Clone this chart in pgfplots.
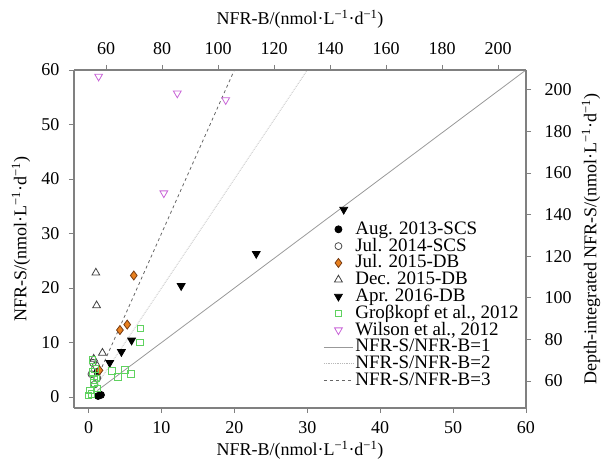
\documentclass[border=0pt]{standalone}
\usepackage{fontspec}
\setmainfont{Liberation Serif}
\usepackage{pgfplots}
\pgfplotsset{compat=1.18}
\definecolor{frame}{RGB}{128,128,128}
\definecolor{orng}{RGB}{232,128,30}
\definecolor{brwn}{RGB}{120,60,20}
\definecolor{grn}{RGB}{95,210,95}
\definecolor{mag}{RGB}{200,100,215}
\newcommand{\unitlab}{(nmol·L\textsuperscript{−1}·d\textsuperscript{−1})}
\pgfplotsset{base/.style={
  scale only axis, width=452pt, height=338pt,
  tick align=outside, major tick length=5pt,
  every tick/.style={frame, line width=0.8pt},
  axis line style={frame, line width=1.2pt},
  tick label style={font=\rmfamily\fontsize{18}{18}\selectfont},
  xticklabel={\textrm{\pgfmathprintnumber[assume math mode=true]{\tick}}},
  yticklabel={\textrm{\pgfmathprintnumber[assume math mode=true]{\tick}}},
  label style={font=\rmfamily\fontsize{18}{18}\selectfont},
  every axis plot/.append style={line width=0.8pt}
}}

\begin{document}
\begin{tikzpicture}
\begin{axis}[base, name=ax,
  xmin=-2, xmax=60, ymin=-2, ymax=60,
  axis x line*=bottom, axis y line*=left,
  xtick={0,10,...,60}, ytick={0,10,...,60},
  xticklabel shift=5pt, yticklabel shift=6pt,
  xlabel={NFR-B/\unitlab}, ylabel={NFR-S/\unitlab},
  every axis x label/.append style={at={(rel axis cs:0.5,0)}, anchor=center, yshift=-42pt},
  every axis y label/.append style={at={(rel axis cs:0,0.5)}, anchor=center, yshift=53pt},
  legend style={draw=none, fill=none, at={(0.545,0.56)}, anchor=north west,
    font=\rmfamily\fontsize{19}{19}\selectfont, row sep=0pt,
    cells={anchor=west, text height=11.3pt, text depth=3.5pt, inner ysep=0.3pt}},
  legend image code/.code={\draw[mark repeat=2,mark phase=2]
    plot coordinates {(0pt,0pt)(14.5pt,0pt)(29pt,0pt)};}]
  % ratio lines
  \addplot[gray!80, forget plot] coordinates {(1.2,1.2)(60,60)};
  \addplot[gray!55, densely dotted, forget plot] coordinates {(1,2)(30,60)};
  \addplot[black!60, dashed, forget plot] coordinates {(1.5,4.5)(20,60)};
  % Aug. 2013-SCS
  \addplot[only marks, mark=*, mark size=3.5pt, black] coordinates {
    (1.3,0.2)(1.7,0.4)(1.2,4.6)};
  % Jul. 2014-SCS
  \addplot[only marks, mark=o, mark size=3.5pt, black!70] coordinates {
    (0.6,6.3)(1.0,5.8)(0.4,4.2)(1.2,3.5)(0.8,2.3)};
  % Jul. 2015-DB
  \addplot[only marks, mark=diamond*, mark size=4.5pt, brwn, mark options={fill=orng}] coordinates {
    (4.3,12.3)(5.3,13.3)(6.2,22.3)(1.5,4.9)};
  % Dec. 2015-DB
  \addplot[only marks, mark=triangle, mark size=4.5pt, black!75] coordinates {
    (1.0,22.8)(1.1,16.8)(1.9,8.1)(0.7,7.0)};
  % Apr. 2016-DB
  \addplot[only marks, mark=triangle*, mark size=4.5pt, black, mark options={rotate=180}] coordinates {
    (35.0,34.4)(23.0,26.3)(12.7,20.4)(5.9,10.4)(4.5,8.3)(2.9,6.3)};
  % Grosskopf et al., 2012
  \addplot[only marks, mark=square, mark size=3.3pt, grn] coordinates {
    (7.1,12.6)(7.0,10.0)(3.2,4.8)(4.0,3.7)(5.0,5.0)(5.8,4.3)(0.5,6.8)(0.5,4.6)
    (0.7,3.2)(1.1,3.4)(0.7,2.6)(0.2,1.2)(0.0,0.3)(0.4,0.6)(1.2,1.6)(0.9,5.2)};
  \addlegendimage{only marks, mark=triangle, mark size=4.5pt, mag, mark options={rotate=180}}
  \addlegendimage{gray!80}
  \addlegendimage{gray!55, densely dotted}
  \addlegendimage{black!60, dashed}
  \legend{Aug. 2013-SCS, Jul. 2014-SCS, Jul. 2015-DB, Dec. 2015-DB, Apr. 2016-DB,
    Groβkopf et al.{,} 2012, Wilson et al.{,} 2012,
    NFR-S/NFR-B=1, NFR-S/NFR-B=2, NFR-S/NFR-B=3}
\end{axis}
\begin{axis}[base,
  xmin=48.5, xmax=210, ymin=47, ymax=209.5,
  axis x line*=top, axis y line*=right,
  xtick={60,80,...,200}, ytick={60,80,...,200},
  xticklabel shift=7pt, yticklabel shift=10pt,
  xlabel={NFR-B/\unitlab}, ylabel={Depth-integrated NFR-S/\unitlab},
  every axis x label/.append style={at={(rel axis cs:0.5,1)}, anchor=center, yshift=51pt},
  every axis y label/.append style={at={(rel axis cs:1,0.5)}, anchor=center, yshift=-65pt}]
  % Wilson et al., 2012
  \addplot[only marks, mark=triangle, mark size=4.5pt, mag, mark options={rotate=180}] coordinates {
    (57.3,206.4)(85.4,198.3)(102.7,195.1)(80.6,150.3)};
\end{axis}
\pgfresetboundingbox
\path[use as bounding box] (ax.south west) ++(-74pt,-57pt) rectangle ++(602pt,465pt);
\end{tikzpicture}
\end{document}
